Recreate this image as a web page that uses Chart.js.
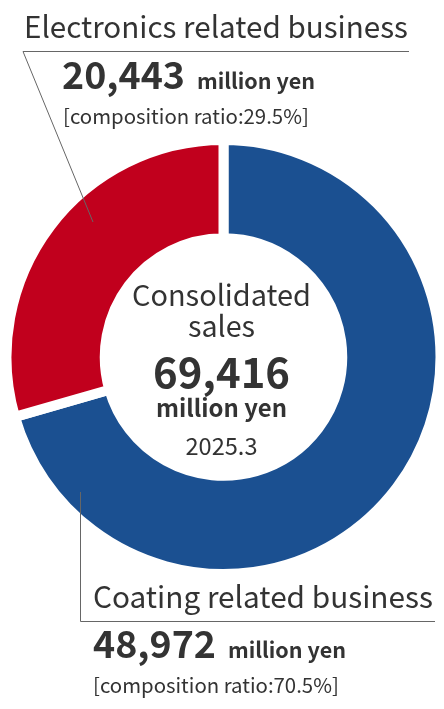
<!DOCTYPE html>
<html>
<head>
<meta charset="utf-8">
<script src="https://cdn.jsdelivr.net/npm/chart.js@4/dist/chart.umd.min.js"></script>
<style>
  html, body { margin: 0; padding: 0; background: #fff; }
  #wrap { position: relative; width: 444px; height: 709px; overflow: hidden; }
  #wrap canvas { position: absolute; left: 0; top: 0; }
  .lbl { position: absolute; line-height: 0; white-space: nowrap; color: #333;
         font-family: "Noto Sans CJK JP", "Noto Sans", sans-serif; }
  .lbl .z { display: inline-block; height: 0; width: 0; }
  .b { font-weight: 700; }
</style>
</head>
<body>
<div id="wrap">
  <canvas id="c"></canvas>
</div>
<script>
// ---- data ----
const categories = ['Coating related business', 'Electronics related business'];
const salesValues = [48972, 20443];
const ratioValues = ['70.5%', '29.5%'];
const totalSales = '69,416';
const unitLabel = 'million yen';
const periodLabel = '2025.3';
const centerTitle = ['Consolidated', 'sales'];
const sliceColors = ['#1b5091', '#c1001d'];

const fmt = v => v.toLocaleString('en-US');

// ---- labels (real text, positioned by baseline) ----
const wrap = document.getElementById('wrap');
function addLabel(spec) {
  // spec: {x, y (baseline), align:'left'|'center', parts:[{text,size,bold,target,ml}]}
  const d = document.createElement('div');
  d.className = 'lbl';
  d.style.bottom = (709 - spec.y) + 'px';
  if (spec.align === 'center') {
    d.style.left = (spec.x - 200) + 'px';
    d.style.width = '400px';
    d.style.textAlign = 'center';
  } else {
    d.style.left = spec.x + 'px';
  }
  spec.parts.forEach(p => {
    const s = document.createElement('span');
    s.textContent = p.text;
    s.style.fontSize = p.size + 'px';
    if (p.bold) s.className = 'b';
    if (p.ml) { s.style.marginLeft = p.ml + 'px'; s.style.display = 'inline-block'; }
    d.appendChild(s);
    p.el = s;
  });
  const z = document.createElement('span');
  z.className = 'z';
  d.appendChild(z);
  wrap.appendChild(d);
  // fit widths to reference
  spec.parts.forEach(p => {
    if (p.target) {
      const w = p.el.getBoundingClientRect().width;
      if (w > 0) p.el.style.fontSize = (p.size * p.target / w).toFixed(2) + 'px';
    }
  });
}

// top label (Electronics)
addLabel({x: 24, y: 38, parts: [{text: categories[1], size: 30, target: 384}]});
addLabel({x: 62, y: 89, parts: [
  {text: fmt(salesValues[1]), size: 38, bold: true, target: 123},
  {text: unitLabel, size: 22, bold: true, target: 118, ml: 12}
]});
addLabel({x: 63, y: 124, parts: [{text: '[composition ratio:' + ratioValues[1] + ']', size: 20, target: 246}]});

// center
addLabel({x: 221.5, y: 306, align: 'center', parts: [{text: centerTitle[0], size: 30, target: 179}]});
addLabel({x: 221.5, y: 337, align: 'center', parts: [{text: centerTitle[1], size: 30, target: 67}]});
addLabel({x: 221.5, y: 388, align: 'center', parts: [{text: totalSales, size: 44, bold: true, target: 137}]});
addLabel({x: 221.5, y: 417, align: 'center', parts: [{text: unitLabel, size: 24, bold: true, target: 131}]});
addLabel({x: 221.5, y: 455, align: 'center', parts: [{text: periodLabel, size: 23, target: 72}]});

// bottom label (Coating)
addLabel({x: 93, y: 608, parts: [{text: categories[0], size: 30, target: 340}]});
addLabel({x: 93, y: 658, parts: [
  {text: fmt(salesValues[0]), size: 38, bold: true, target: 123},
  {text: unitLabel, size: 22, bold: true, target: 118, ml: 12}
]});
addLabel({x: 93, y: 693, parts: [{text: '[composition ratio:' + ratioValues[0] + ']', size: 20, target: 246}]});

// ---- leader lines plugin ----
const leaderLines = {
  id: 'leaderLines',
  afterDraw(chart) {
    const ctx = chart.ctx;
    ctx.save();
    ctx.strokeStyle = '#666';
    ctx.lineWidth = 1;
    ctx.beginPath();
    ctx.moveTo(409, 51.5); ctx.lineTo(23, 51.5); ctx.lineTo(93, 222);
    ctx.moveTo(80.5, 492); ctx.lineTo(80.5, 621.5); ctx.lineTo(435, 621.5);
    ctx.stroke();
    ctx.restore();
  }
};

// ---- chart ----
new Chart(document.getElementById('c'), {
  type: 'doughnut',
  data: {
    labels: categories,
    datasets: [{
      data: salesValues,
      backgroundColor: sliceColors,
      borderColor: '#ffffff',
      borderWidth: 10,
      borderAlign: 'center',
      hoverOffset: 0
    }]
  },
  options: {
    responsive: true,
    maintainAspectRatio: false,
    animation: false,
    radius: 217,
    cutout: 116,
    layout: { padding: { left: 6, right: 3, top: 140, bottom: 135 } },
    plugins: { legend: { display: false }, tooltip: { enabled: false } },
    events: []
  },
  plugins: [leaderLines]
});
</script>
</body>
</html>
